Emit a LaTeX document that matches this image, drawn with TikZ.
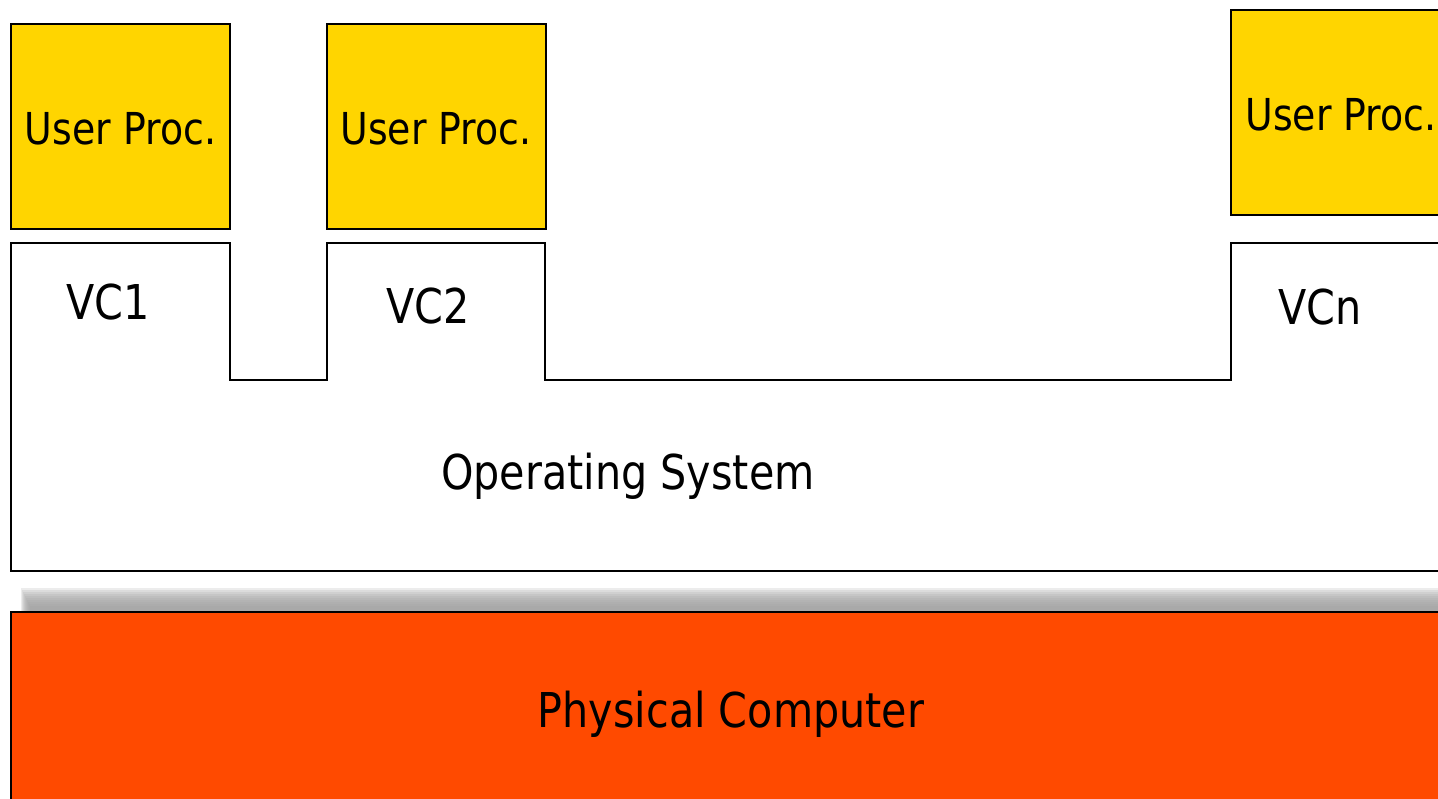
\documentclass[tikz,border=0pt]{standalone}
\usepackage{fontspec}
\setmainfont{DejaVu Sans}[FakeStretch=0.86]
\definecolor{procyellow}{RGB}{255,213,0}
\definecolor{hworange}{RGB}{255,74,0}
\definecolor{shadowgray}{RGB}{160,160,160}
\tikzset{
  procbox/.style={draw=black, line width=2pt, fill=procyellow, minimum width=219pt, minimum height=205pt, inner sep=0pt},
  boxline/.style={draw=black, line width=2pt},
  smalltxt/.style={font=\fontsize{44}{50}\selectfont, anchor=base, inner sep=0pt},
  bigtxt/.style={font=\fontsize{48}{54}\selectfont, anchor=base, inner sep=0pt},
  shadowlayer/.style={fill=shadowgray, opacity=0.2},
}
\begin{document}
\begin{tikzpicture}[x=1pt,y=-1pt]
\useasboundingbox (0,0) rectangle (1438,799);
\clip (0,0) rectangle (1438,799);
\fill[white] (0,0) rectangle (1438,799);
% user processes
\node[procbox] (up1) at (120.5,126.5) {};
\node[procbox] (up2) at (436,126.5) {};
\node[procbox] (up3) at (1340.5,113) {};
\node[smalltxt] (up1t) at (120.5,145) {User Proc.};
\node[smalltxt] (up2t) at (436,145) {User Proc.};
\node[smalltxt] (up3t) at (1341,131) {User Proc.};
% operating system outline
\draw[boxline, line join=miter] (1460,571) -- (11,571) -- (11,243) -- (230,243) -- (230,380) -- (327,380) -- (327,243) -- (545,243) -- (545,380) -- (1231,380) -- (1231,243) -- (1460,243);
\node[bigtxt] (vc1) at (108,320) {VC1};
\node[bigtxt] (vc2) at (428,324) {VC2};
\node[bigtxt] (vcn) at (1320,325) {VCn};
\node[bigtxt] (os) at (628,489) {Operating System};
% shadow
\foreach \i in {0,...,9}
  \path[shadowlayer] (21+\i,588+2*\i) rectangle (1460,612);
% physical computer
\fill[hworange] (11,612) rectangle (1460,820);
\draw[boxline] (11,820) -- (11,612) -- (1460,612);
\node[bigtxt] (pc) at (731,727) {Physical Computer};
\end{tikzpicture}
\end{document}
